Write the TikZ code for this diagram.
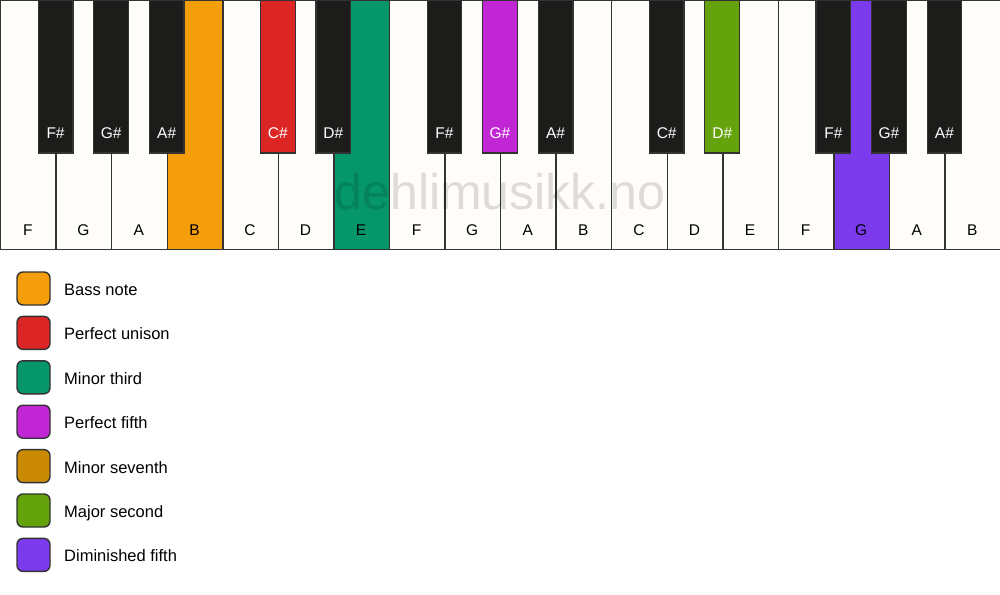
\documentclass[tikz,border=0pt]{standalone}
\usepackage{fontspec}
\setmainfont{Liberation Sans}
\definecolor{keywhite}{HTML}{FFFDF9}
\definecolor{keyblack}{HTML}{1C1C1A}
\definecolor{keyline}{HTML}{333333}
\definecolor{cbass}{HTML}{F59E0B}
\definecolor{cunison}{HTML}{DC2626}
\definecolor{cthird}{HTML}{059669}
\definecolor{cfifth}{HTML}{C026D3}
\definecolor{cseventh}{HTML}{CA8A04}
\definecolor{csecond}{HTML}{65A30D}
\definecolor{cdim}{HTML}{7C3AED}
\tikzset{
  whitekey/.style={draw=keyline, line width=1.5pt, minimum width=55.556pt, minimum height=249pt, anchor=north west, inner sep=0pt, outer sep=0pt},
  blackkey/.style={draw=keyline, line width=1.2pt, minimum width=34.7pt, minimum height=153pt, anchor=north, inner sep=0pt, outer sep=0pt},
  wlabel/.style={font=\fontsize{15.5}{15.5}\selectfont, text=black, inner sep=0pt, anchor=base},
  blabel/.style={font=\fontsize{15.5}{15.5}\selectfont, text=white, inner sep=0pt, anchor=base},
  legbox/.style={draw=keyline, line width=1.4pt, rounded corners=6pt, minimum width=33pt, minimum height=33pt, inner sep=0pt},
  legtext/.style={font=\fontsize{16.5}{16.5}\selectfont, anchor=base west, inner sep=0pt},
}
\begin{document}
\begin{tikzpicture}[x=1pt,y=-1pt]
\useasboundingbox[fill=white] (0,0) rectangle (1000,594);
% white keys
\foreach \i/\n/\c in {0/F/keywhite,1/G/keywhite,2/A/keywhite,3/B/cbass,4/C/keywhite,5/D/keywhite,6/E/cthird,7/F/keywhite,8/G/keywhite,9/A/keywhite,10/B/keywhite,11/C/keywhite,12/D/keywhite,13/E/keywhite,14/F/keywhite,15/G/cdim,16/A/keywhite,17/B/keywhite}{
  \node[whitekey, fill=\c] (w\i) at ({\i*55.556+0.6},0.6) {};
  \node[wlabel] (wl\i) at ({\i*55.556+27.78},235.5) {\n};
}
% watermark
\node[font=\fontsize{50}{50}\selectfont, text=black, text opacity=0.13, inner sep=0pt] (wm) at (500,192) {dehlimusikk.no};
% black keys
\foreach \i/\n/\c in {1/F\#/keyblack,2/G\#/keyblack,3/A\#/keyblack,5/C\#/cunison,6/D\#/keyblack,8/F\#/keyblack,9/G\#/cfifth,10/A\#/keyblack,12/C\#/keyblack,13/D\#/csecond,15/F\#/keyblack,16/G\#/keyblack,17/A\#/keyblack}{
  \node[blackkey, fill=\c] (b\i) at ({\i*55.556},0) {};
  \node[blabel] (bl\i) at ({\i*55.556},138.5) {\n};
}
% legend
\foreach \k/\c/\t in {0/cbass/Bass note,1/cunison/Perfect unison,2/cthird/Minor third,3/cfifth/Perfect fifth,4/cseventh/Minor seventh,5/csecond/Major second,6/cdim/Diminished fifth}{
  \node[legbox, fill=\c] (lb\k) at (33.5,{288.5+\k*44.4}) {};
  \node[legtext] (lt\k) at (64,{295.5+\k*44.4}) {\t};
}
\end{tikzpicture}
\end{document}
